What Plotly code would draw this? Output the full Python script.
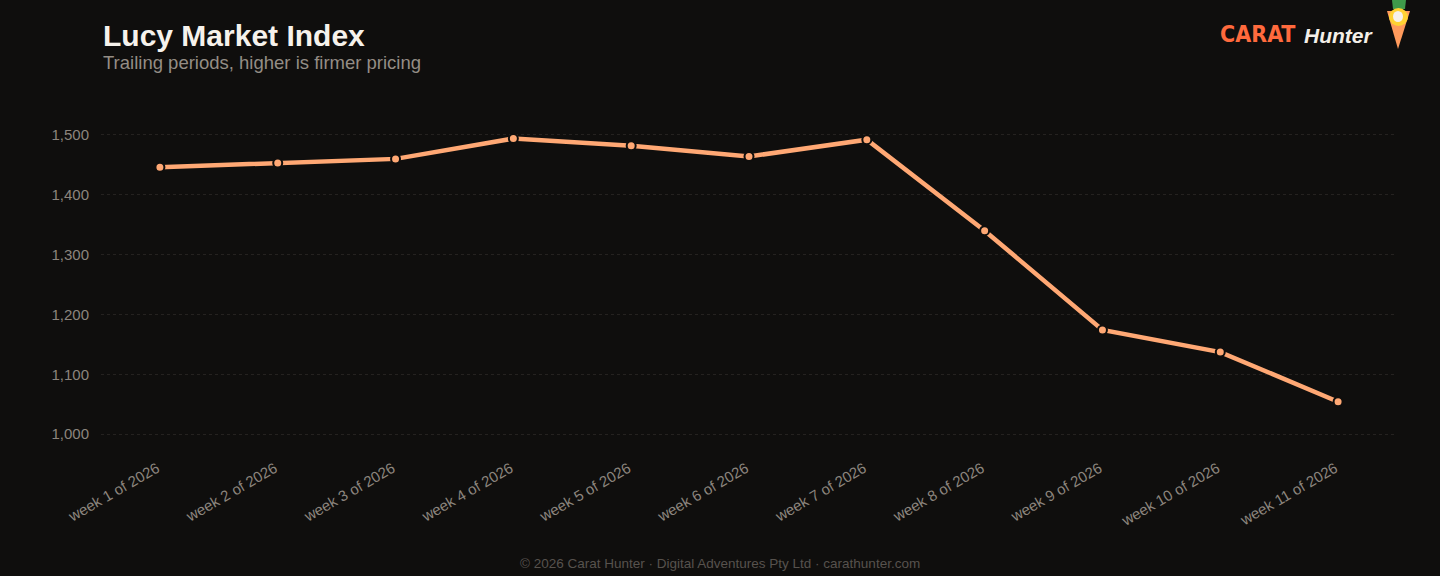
import plotly.graph_objects as go

weeks = ["week 1 of 2026", "week 2 of 2026", "week 3 of 2026", "week 4 of 2026",
         "week 5 of 2026", "week 6 of 2026", "week 7 of 2026", "week 8 of 2026",
         "week 9 of 2026", "week 10 of 2026", "week 11 of 2026"]
index_values = [1446, 1453, 1460, 1494, 1482, 1464, 1492, 1340, 1174, 1137, 1054]
y_ticks = [1000, 1100, 1200, 1300, 1400, 1500]

BG = "#0f0e0d"
LINE = "#ffa874"
TICK = "#8c857e"

fig = go.Figure()
fig.add_trace(go.Scatter(
    x=weeks, y=index_values, mode="lines+markers",
    line=dict(color=LINE, width=4.5),
    marker=dict(size=9, color=LINE, line=dict(color=BG, width=2)),
    hoverinfo="x+y", showlegend=False,
))

fig.update_layout(
    width=1440, height=576,
    paper_bgcolor=BG, plot_bgcolor=BG,
    margin=dict(l=101, r=43, t=117, b=118),
    font=dict(family="Liberation Sans, Arial, sans-serif", color=TICK),
    xaxis=dict(
        type="category", range=[-0.5, 10.5], showgrid=False, zeroline=False,
        showline=False, ticks="", tickangle=-30,
        tickfont=dict(size=15, color=TICK),
        ticklabelshift=-3, ticklabelstandoff=-2,
    ),
    yaxis=dict(
        range=[960, 1530], tickvals=y_ticks, tickformat=",",
        showgrid=True, gridcolor="#252220", griddash="dot", gridwidth=1,
        zeroline=False, showline=False, ticks="",
        tickfont=dict(size=15, color=TICK), ticklabelstandoff=11,
    ),
    annotations=[
        dict(text="<b>Lucy Market Index</b>", xref="paper", yref="paper",
             x=0, xanchor="left", y=1, yanchor="bottom", yshift=63,
             showarrow=False, font=dict(size=30, color="#f6f2ec")),
        dict(text="Trailing periods, higher is firmer pricing", xref="paper", yref="paper",
             x=0, xanchor="left", y=1, yanchor="bottom", yshift=42,
             showarrow=False, font=dict(size=18.5, color="#948d85")),
        dict(text="© 2026 Carat Hunter · Digital Adventures Pty Ltd · carathunter.com",
             xref="paper", yref="paper", x=0.5, xanchor="center",
             y=0, yanchor="middle", yshift=-105, xshift=-29,
             showarrow=False, font=dict(size=13.5, color="#57524d")),
        dict(text="<b>CARAT</b>", xref="paper", yref="paper", x=1, xanchor="right",
             y=1, yanchor="middle", xshift=-100, yshift=83, showarrow=False,
             font=dict(size=23, color="#ff6a3d", family="DejaVu Sans Condensed, Liberation Sans Narrow, Roboto, sans-serif")),
        dict(text="<b><i>Hunter</i></b>", xref="paper", yref="paper", x=1, xanchor="left",
             y=1, yanchor="middle", xshift=-95, yshift=82, showarrow=False,
             font=dict(size=21, color="#f4efe8")),
    ],
)

# carrot logo shapes in pixel coordinates -> convert to paper
def px_to_paper(x, y):
    return (x - 101) / (1440 - 101 - 43), (576 - 118 - y) / (576 - 117 - 118)

def path_px(points):
    parts = []
    for i, (x, y) in enumerate(points):
        px, py = px_to_paper(x, y)
        parts.append(("M" if i == 0 else "L") + f" {px:.5f} {py:.5f}")
    return " ".join(parts) + " Z"

fig.add_shape(type="path", xref="paper", yref="paper", layer="above",
              path=path_px([(1392, 0), (1406, 0), (1405, 9), (1393, 9)]),
              fillcolor="#3e9a4a", line=dict(width=0))
fig.add_shape(type="path", xref="paper", yref="paper", layer="above",
              path=path_px([(1387, 11), (1410, 11), (1398, 49)]),
              fillcolor="#ff9a5c", line=dict(width=0))
cx0, cy0 = px_to_paper(1389, 8)
cx1, cy1 = px_to_paper(1408, 26)
fig.add_shape(type="circle", xref="paper", yref="paper", layer="above",
              x0=cx0, y0=cy0, x1=cx1, y1=cy1,
              fillcolor="#ffd233", line=dict(width=0))
fx0, fy0 = px_to_paper(1393, 11)
fx1, fy1 = px_to_paper(1403, 22)
fig.add_shape(type="circle", xref="paper", yref="paper", layer="above",
              x0=fx0, y0=fy0, x1=fx1, y1=fy1,
              fillcolor="#f6f1ea", line=dict(width=0))

fig.write_html("out.html")
